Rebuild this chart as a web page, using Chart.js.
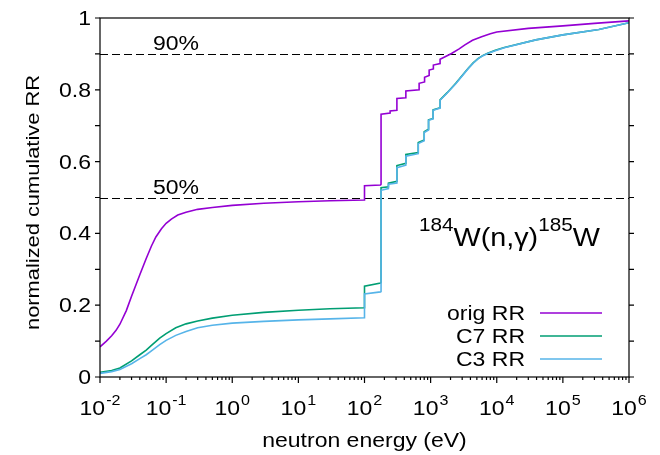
<!DOCTYPE html>
<html>
<head>
<meta charset="utf-8">
<script src="https://cdn.jsdelivr.net/npm/chart.js@4/dist/chart.umd.min.js"></script>
<style>
html, body { margin: 0; padding: 0; background: #fff; }
</style>
</head>
<body>
<canvas id="cumRR" width="660" height="455"></canvas>
<script>
// valores (energia en eV, RR acumulada normalizada)
var origE = [0.01, 0.0125, 0.015, 0.0175, 0.02, 0.025, 0.03, 0.035, 0.04, 0.05, 0.06, 0.07, 0.085, 0.1, 0.12, 0.15, 0.2, 0.3, 0.5, 1, 3, 10, 30, 100,
  100, 175, 178,
  178, 244, 244, 309, 309, 422, 422, 670, 670, 810, 810, 950, 950, 1100, 1100, 1390, 1390,
  2070, 2700, 3300, 4300, 5900, 8000, 1e4, 3e4, 1e5, 3e5, 1e6];
var origRR = [0.084, 0.1, 0.115, 0.13, 0.147, 0.185, 0.225, 0.257, 0.285, 0.33, 0.365, 0.39, 0.413, 0.428, 0.44, 0.451, 0.459, 0.467, 0.472, 0.478, 0.484, 0.488, 0.491, 0.493,
  0.533, 0.535, 0.537,
  0.732, 0.735, 0.741, 0.743, 0.776, 0.778, 0.797, 0.8, 0.818, 0.822, 0.835, 0.84, 0.855, 0.858, 0.869, 0.873, 0.885,
  0.901, 0.914, 0.925, 0.938, 0.948, 0.956, 0.961, 0.971, 0.978, 0.985, 0.992];

var c7E = [0.01, 0.015, 0.02, 0.03, 0.04, 0.05, 0.06, 0.08, 0.1, 0.14, 0.2, 0.3, 0.5, 1, 3, 10, 30, 100,
  100, 175, 178,
  178, 230, 230, 309, 309, 422, 422, 650, 650, 800, 800, 930, 930, 1090, 1090, 1390, 1390,
  1780, 2400, 3700, 4400, 5200, 6200, 7300, 9500, 1.3e4, 3.9e4, 1e5, 3.5e5, 1e6];
var c7RR = [0.013, 0.018, 0.025, 0.045, 0.062, 0.075, 0.088, 0.108, 0.121, 0.137, 0.148, 0.156, 0.164, 0.172, 0.18, 0.186, 0.19, 0.193,
  0.253, 0.262, 0.264,
  0.527, 0.53, 0.54, 0.545, 0.589, 0.595, 0.62, 0.625, 0.653, 0.66, 0.683, 0.69, 0.716, 0.72, 0.744, 0.75, 0.772,
  0.792, 0.818, 0.86, 0.875, 0.887, 0.896, 0.902, 0.91, 0.918, 0.939, 0.953, 0.968, 0.987];

var c3E = [0.01, 0.015, 0.02, 0.03, 0.04, 0.05, 0.06, 0.08, 0.1, 0.14, 0.2, 0.3, 0.5, 1, 3, 10, 30, 100,
  100, 175, 178,
  178, 230, 230, 309, 309, 422, 422, 650, 650, 800, 800, 930, 930, 1090, 1090, 1390, 1390,
  1780, 2400, 3700, 4400, 5200, 6200, 7300, 9500, 1.3e4, 3.9e4, 1e5, 3.5e5, 1e6];
var c3RR = [0.01, 0.015, 0.021, 0.037, 0.051, 0.062, 0.073, 0.09, 0.102, 0.116, 0.127, 0.137, 0.144, 0.15, 0.155, 0.159, 0.162, 0.165,
  0.231, 0.237, 0.238,
  0.52, 0.525, 0.537, 0.54, 0.583, 0.59, 0.615, 0.622, 0.65, 0.658, 0.681, 0.688, 0.715, 0.719, 0.743, 0.749, 0.771,
  0.791, 0.817, 0.859, 0.874, 0.886, 0.895, 0.901, 0.909, 0.917, 0.939, 0.953, 0.968, 0.987];

var seriesLabels = ['orig RR', 'C7 RR', 'C3 RR'];
var seriesColors = ['#9400d3', '#009e73', '#56b4e9'];
var yTicks = [0, 0.2, 0.4, 0.6, 0.8, 1];
var yLabels = ['0', '0.2', '0.4', '0.6', '0.8', '1'];
var xDecades = [-2, -1, 0, 1, 2, 3, 4, 5, 6];
var refLevels = [0.5, 0.9];
var refLabels = ['50%', '90%'];

var FONT = '"Liberation Sans", Arial, sans-serif';
var SX = 1.15; // el texto del original es algo ancho

function pts(e, v) {
  return e.map(function (x, i) { return { x: x, y: v[i] }; });
}

function txt(ctx, s, x, y, size, align) {
  ctx.save();
  ctx.font = size + 'px ' + FONT;
  ctx.translate(x, y);
  ctx.scale(SX, 1);
  ctx.textAlign = align || 'left';
  ctx.textBaseline = 'alphabetic';
  ctx.fillStyle = '#000';
  ctx.fillText(s, 0, 0);
  ctx.restore();
}

function txtW(ctx, s, size) {
  ctx.font = size + 'px ' + FONT;
  return ctx.measureText(s).width * SX;
}

var refLinesPlugin = {
  id: 'refLines',
  beforeDatasetsDraw: function (chart) {
    var ctx = chart.ctx, a = chart.chartArea, ys = chart.scales.y;
    ctx.save();
    ctx.strokeStyle = '#000';
    ctx.lineWidth = 1.2;
    ctx.setLineDash([8, 4]);
    refLevels.forEach(function (lv) {
      var py = Math.round(ys.getPixelForValue(lv)) + 0.5;
      ctx.beginPath();
      ctx.moveTo(a.left, py);
      ctx.lineTo(a.right, py);
      ctx.stroke();
    });
    ctx.restore();
  }
};

var decorPlugin = {
  id: 'decor',
  afterDraw: function (chart) {
    var ctx = chart.ctx, a = chart.chartArea;
    var xs = chart.scales.x, ys = chart.scales.y;
    ctx.save();

    // marco
    ctx.strokeStyle = '#000';
    ctx.lineWidth = 1.2;
    ctx.strokeRect(a.left, a.top, a.right - a.left, a.bottom - a.top);

    // ticks eje y (izq. y der.)
    for (var k = 0; k <= 10; k++) {
      var py = ys.getPixelForValue(k / 10);
      ctx.beginPath();
      ctx.moveTo(a.left - 5, py); ctx.lineTo(a.left, py);
      ctx.moveTo(a.right, py); ctx.lineTo(a.right + 5, py);
      ctx.stroke();
    }
    // ticks eje x
    xDecades.forEach(function (d, i) {
      var px = xs.getPixelForValue(Math.pow(10, d));
      ctx.beginPath();
      ctx.moveTo(px, a.bottom); ctx.lineTo(px, a.bottom + 6);
      ctx.stroke();
      if (i < xDecades.length - 1) {
        for (var m = 2; m <= 9; m++) {
          var pm = xs.getPixelForValue(m * Math.pow(10, d));
          ctx.beginPath();
          ctx.moveTo(pm, a.bottom); ctx.lineTo(pm, a.bottom + 3);
          ctx.stroke();
        }
      }
    });

    // etiquetas y
    yTicks.forEach(function (v, i) {
      txt(ctx, yLabels[i], 91, ys.getPixelForValue(v) + 7, 20, 'right');
    });

    // etiquetas x: 10^d
    xDecades.forEach(function (d) {
      var px = xs.getPixelForValue(Math.pow(10, d));
      var ex = String(d);
      var w1 = txtW(ctx, '10', 20), w2 = txtW(ctx, ex, 14);
      var x0 = px - (w1 + w2 + 1) / 2;
      txt(ctx, '10', x0, 415, 20, 'left');
      txt(ctx, ex, x0 + w1 + 1, 405, 14, 'left');
    });

    // titulos de ejes
    txt(ctx, 'neutron energy (eV)', (a.left + a.right) / 2, 447, 20, 'center');
    ctx.save();
    ctx.translate(39, (a.top + a.bottom) / 2 + 5);
    ctx.rotate(-Math.PI / 2);
    txt(ctx, 'normalized cumulative RR', 0, 0, 19, 'center');
    ctx.restore();

    // etiquetas 50% / 90%
    refLevels.forEach(function (lv, i) {
      txt(ctx, refLabels[i], 153, ys.getPixelForValue(lv) - 4, 20, 'left');
    });

    // reaccion
    var x = 419, base = 246;
    txt(ctx, '184', x, base - 15, 18, 'left'); x += txtW(ctx, '184', 18);
    txt(ctx, 'W(n,\u03b3)', x, base, 25, 'left'); x += txtW(ctx, 'W(n,\u03b3)', 25);
    txt(ctx, '185', x, base - 15, 18, 'left'); x += txtW(ctx, '185', 18);
    txt(ctx, 'W', x, base, 25, 'left');

    // leyenda
    seriesLabels.forEach(function (lab, i) {
      var ly = 313 + i * 23;
      txt(ctx, lab, 525, ly + 7, 20, 'right');
      ctx.strokeStyle = seriesColors[i];
      ctx.lineWidth = 1.5;
      ctx.beginPath();
      ctx.moveTo(540, ly); ctx.lineTo(602, ly);
      ctx.stroke();
    });

    ctx.restore();
  }
};

var ctx1 = document.getElementById('cumRR').getContext('2d');
var rrChart = new Chart(ctx1, {
  type: 'line',
  data: {
    datasets: [
      { label: seriesLabels[0], data: pts(origE, origRR), borderColor: seriesColors[0], order: 2 },
      { label: seriesLabels[1], data: pts(c7E, c7RR), borderColor: seriesColors[1], order: 1 },
      { label: seriesLabels[2], data: pts(c3E, c3RR), borderColor: seriesColors[2], order: 0 }
    ]
  },
  options: {
    responsive: false,
    animation: false,
    devicePixelRatio: 1,
    layout: { padding: { top: 18, right: 31, left: 0, bottom: 0 } },
    elements: {
      point: { radius: 0 },
      line: { borderWidth: 1.6, tension: 0, fill: false }
    },
    scales: {
      x: {
        type: 'logarithmic', min: 0.01, max: 1e6,
        ticks: { display: false }, grid: { display: false }, border: { display: false },
        afterFit: function (s) { s.height = 78; }
      },
      y: {
        min: 0, max: 1,
        ticks: { display: false }, grid: { display: false }, border: { display: false },
        afterFit: function (s) { s.width = 100; }
      }
    },
    plugins: { legend: { display: false }, tooltip: { enabled: false } }
  },
  plugins: [refLinesPlugin, decorPlugin]
});
</script>
</body>
</html>
